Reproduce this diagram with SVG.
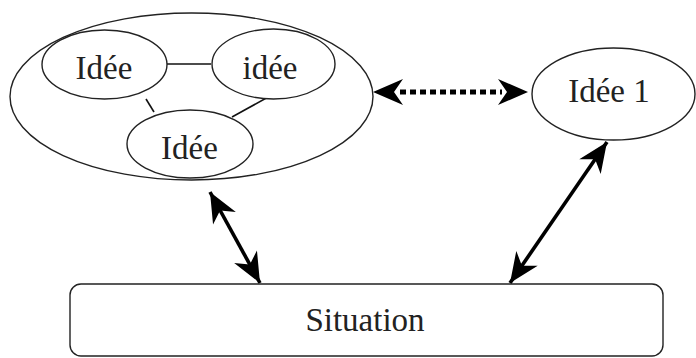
<svg xmlns="http://www.w3.org/2000/svg" width="696" height="358" viewBox="0 0 696 358">
<style>
.node{fill:#fff;stroke:#222;stroke-width:1.4}
.lbl{font-family:"Liberation Serif","Times New Roman",serif;font-size:33px;fill:#222;text-anchor:middle}
.link{stroke:#111;stroke-width:1.6;fill:none}
.arrow{stroke:#000;stroke-width:3.6;fill:none;marker-start:url(#head);marker-end:url(#head)}
.dotted{stroke:#000;stroke-width:5;stroke-dasharray:6 4;fill:none}
</style>
<defs>
<marker id="head" markerUnits="userSpaceOnUse" viewBox="-31 -14 32 28" refX="0" refY="0" markerWidth="32" markerHeight="28" orient="auto-start-reverse">
<path d="M0,0 L-30,-13 L-21,0 L-30,13 Z" fill="#000"/>
</marker>
</defs>
<rect width="696" height="358" fill="#fff"/>
<g id="group-ideas">
<ellipse class="node" cx="191.5" cy="96.5" rx="181.5" ry="83.5" fill="none"/>
</g>
<g id="connectors">
<line class="link" x1="167" y1="64" x2="211" y2="64"/>
<line class="link" x1="146" y1="99" x2="154" y2="112"/>
<line class="link" x1="270" y1="96" x2="232" y2="117"/>
<line class="dotted" x1="400" y1="92" x2="502" y2="92"/>
<path d="M373,92 L403,79 L394,92 L403,105 Z" fill="#000"/>
<path d="M528,92 L498,79 L507,92 L498,105 Z" fill="#000"/>
<line class="arrow" x1="210" y1="192" x2="260" y2="283"/>
<line class="arrow" x1="607" y1="142" x2="510" y2="283"/>
</g>
<g id="idee-a">
<ellipse class="node" cx="104.5" cy="64.5" rx="62.5" ry="34.5"/>
<text class="lbl" x="104" y="79">Idée</text>
</g>
<g id="idee-b">
<ellipse class="node" cx="273.5" cy="64" rx="61.5" ry="35"/>
<text class="lbl" x="270" y="79">idée</text>
</g>
<g id="idee-c">
<ellipse class="node" cx="190" cy="144" rx="63" ry="34"/>
<text class="lbl" x="189.5" y="159">Idée</text>
</g>
<g id="idee-1">
<ellipse class="node" cx="613.5" cy="94" rx="81.5" ry="46"/>
<text class="lbl" x="609" y="102">Idée 1</text>
</g>
<g id="situation">
<rect class="node" x="70" y="284" width="593" height="72" rx="11" ry="11" stroke-width="1.8"/>
<text class="lbl" x="365" y="331">Situation</text>
</g>
</svg>
